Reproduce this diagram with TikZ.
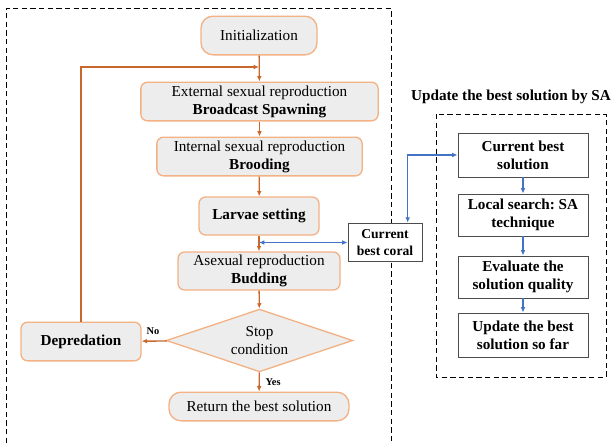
\documentclass[tikz,border=0pt]{standalone}
\usepackage{fontspec}
\setmainfont{Liberation Serif}
\usetikzlibrary{shapes.geometric,arrows.meta}
\definecolor{boxline}{HTML}{F4B183}
\definecolor{boxfill}{HTML}{EDEDED}
\definecolor{flowline}{HTML}{C8682C}
\definecolor{saline}{HTML}{4472C4}
\frenchspacing
\tikzset{
  corabox/.style={draw=boxline, fill=boxfill, line width=1pt, rounded corners=5pt,
    align=center, inner sep=0pt, font=\fontsize{11.4}{13.5}\selectfont},
  pillbox/.style={corabox, rounded corners=9pt},
  decision/.style={draw=boxline, fill=boxfill, line width=1pt, diamond, aspect=3,
    align=center, inner sep=0pt, font=\fontsize{11.4}{13.5}\selectfont},
  sabox/.style={draw=black!70, fill=white, line width=0.7pt, align=center,
    inner sep=0pt, font=\fontsize{11.4}{13.5}\selectfont\bfseries},
  flow/.style={draw=flowline, line width=1pt, -{Latex[length=4pt,width=3.5pt]}},
  saflow/.style={draw=saline, line width=0.8pt, -{Latex[length=4pt,width=3.5pt]}},
  saboth/.style={saflow, {Latex[length=4pt,width=3.5pt]}-{Latex[length=4pt,width=3.5pt]}},
  frame/.style={line width=0.7pt, dash pattern=on 4pt off 2.5pt},
}
\begin{document}
\begin{tikzpicture}[x=0.75pt,y=-0.75pt]
\useasboundingbox (0,0) rectangle (611,443);
% dashed frames
\draw[frame] (6,443) -- (6,8) -- (391,8) -- (391,443);
\draw[frame] (436,114) rectangle (606,377);
% coral reef flow
\node[pillbox, minimum width=87pt, minimum height=29pt] (init) at (259,35.5) {Initialization};
\node[corabox, minimum width=178pt, minimum height=29pt] (spawn) at (259.5,101.5) {External sexual reproduction\\\textbf{Broadcast Spawning}};
\node[corabox, minimum width=154pt, minimum height=29pt] (brood) at (259.5,156.5) {Internal sexual reproduction\\\textbf{Brooding}};
\node[corabox, minimum width=90pt, minimum height=28.5pt] (larvae) at (259,216) {\textbf{Larvae setting}};
\node[corabox, minimum width=121.5pt, minimum height=28.5pt] (bud) at (259,271) {Asexual reproduction\\\textbf{Budding}};
\node[decision, minimum width=140pt, minimum height=47pt] (stop) at (259.5,340.5) {Stop\\condition};
\node[pillbox, minimum width=135pt, minimum height=21.5pt] (ret) at (259,406.5) {Return the best solution};
\node[corabox, minimum width=90pt, minimum height=29pt] (dep) at (81,341.5) {\textbf{Depredation}};
\coordinate (loop) at (259,67);
\draw[flow] (init) -- (spawn);
\draw[flow] (spawn) -- (brood);
\draw[flow] (brood) -- (larvae);
\draw[flow] (larvae) -- (bud);
\draw[flow] (bud) -- (stop);
\draw[flow] (stop) -- node[right, font=\fontsize{7.8}{9}\selectfont\bfseries, xshift=1pt] {Yes} (ret);
\draw[flow] (stop) -- node[above, font=\fontsize{7.8}{9}\selectfont\bfseries, xshift=-1pt, yshift=1pt] {No} (dep);
\draw[flow] (dep.north) |- (loop);
% simulated annealing part
\node[sabox, font=\fontsize{10.2}{12.5}\selectfont\bfseries, minimum width=55.5pt, minimum height=29pt] (coral) at (385,242.5) {Current\\best coral};
\node[font=\fontsize{11.4}{13.5}\selectfont\bfseries] (satitle) at (511,97) {Update the best solution by SA};
\node[sabox, minimum width=97.5pt, minimum height=33pt] (cur) at (523,155) {Current best\\solution};
\node[sabox, minimum width=97.5pt, minimum height=31.5pt] (local) at (523,215) {Local search: SA\\technique};
\node[sabox, minimum width=97.5pt, minimum height=31.5pt] (eval) at (523,277) {Evaluate the\\solution quality};
\node[sabox, minimum width=97.5pt, minimum height=33pt] (upd) at (523,335) {Update the best\\solution so far};
\draw[saboth] (larvae.south |- coral.west) -- (coral.west);
\draw[saboth] ([xshift=17pt]coral.north) |- (cur.west);
\draw[saflow] (cur) -- (local);
\draw[saflow] (local) -- (eval);
\draw[saflow] (eval) -- (upd);
\end{tikzpicture}
\end{document}
